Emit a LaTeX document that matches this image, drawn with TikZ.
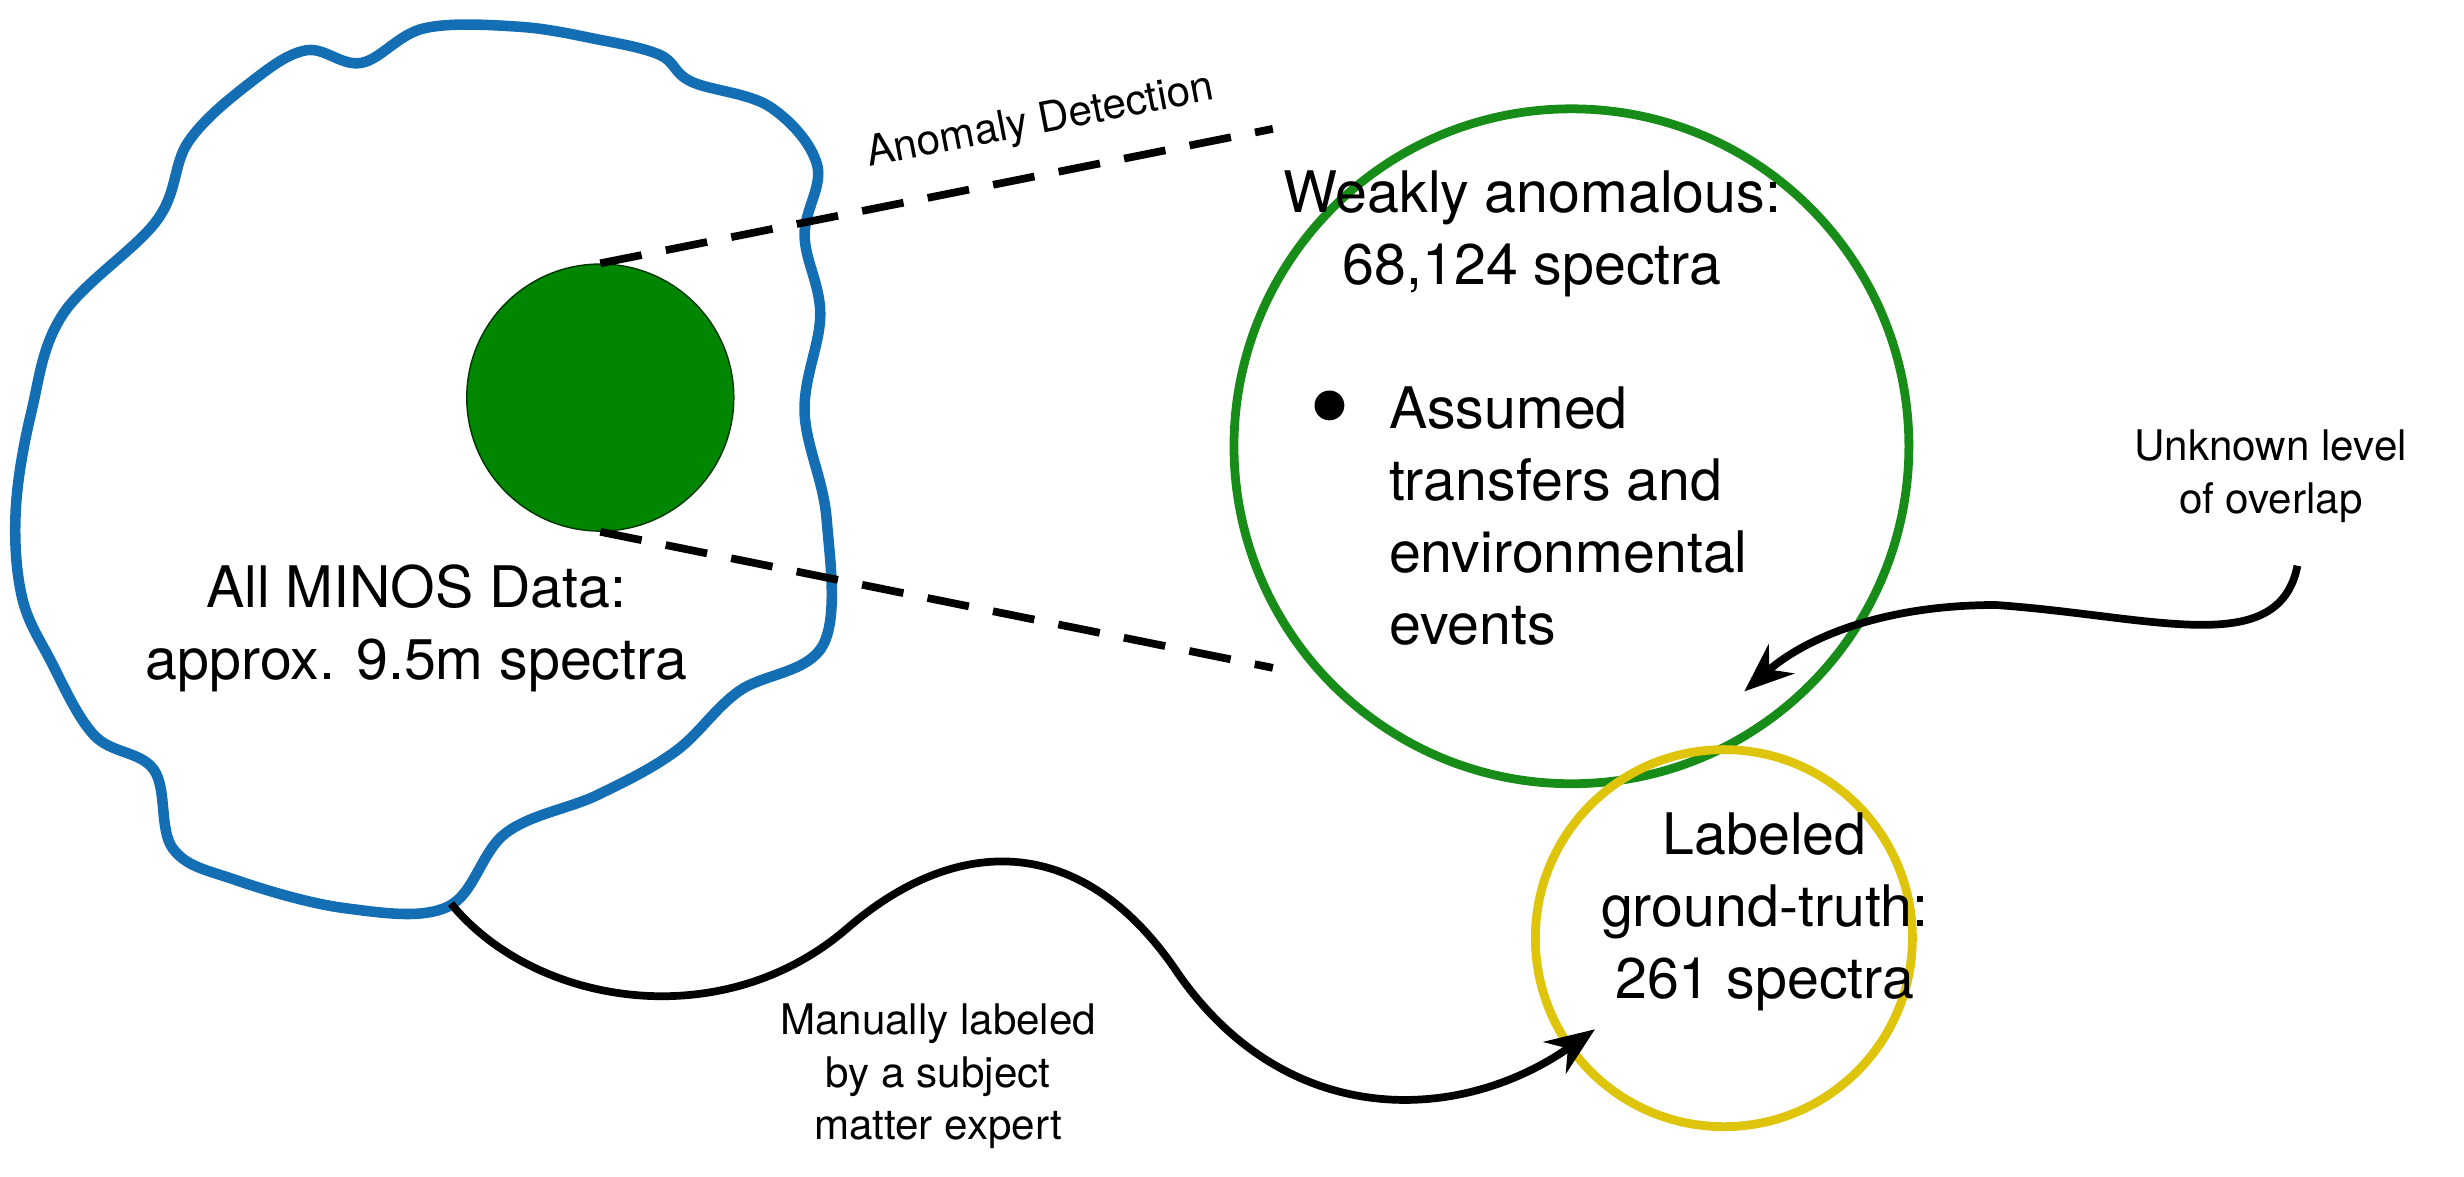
\documentclass[tikz,border=0pt]{standalone}
\usepackage{fontspec}
\setmainfont{TeX Gyre Heros}
\usetikzlibrary{arrows.meta}
\definecolor{gfill}{RGB}{0,134,0}
\definecolor{gline}{RGB}{24,140,24}
\definecolor{bl}{RGB}{20,110,180}
\definecolor{yl}{RGB}{222,196,10}
\begin{document}
\begin{tikzpicture}[x=0.015714cm,y=-0.015714cm,
  big/.style={font=\fontsize{16.3}{20.5}\selectfont,align=center},
  small/.style={font=\fontsize{12}{15}\selectfont,align=center},
  conn/.style={line width=2.2pt,-{Stealth[length=14pt,width=11pt]}}]
\useasboundingbox (0,0) rectangle (1568,749);
\draw[bl,line width=3pt,line join=round] plot[smooth cycle,tension=0.6] coordinates{
(195,32)(230,40)(270,18)(330,17)(380,25)(420,35)(440,52)(490,68)(520,105)(512,150)(522,200)(512,262)(526,330)(524,410)(470,440)(430,478)(380,506)(322,530)(285,577)(220,578)(150,560)(110,540)(98,490)(60,468)(32,420)(14,380)(10,325)(20,262)(40,200)(100,140)(120,90)(160,52)};
\node[circle,fill=gfill,draw=black!60!gfill,minimum size=2.671cm,inner sep=0pt] (g) at (382,253) {};
\node[circle,draw=gline,line width=2.5pt,minimum size=6.75cm,inner sep=0pt] (G) at (1000,284) {};
\node[circle,draw=yl,line width=2.5pt,minimum size=3.771cm,inner sep=0pt] (Y) at (1097,597) {};
\coordinate (a1) at (810,82); \coordinate (a2) at (810,425);
\draw[line width=2.2pt,dash pattern=on 12pt off 7pt] (g.north) -- (a1);
\draw[line width=2.2pt,dash pattern=on 12pt off 7pt] (g.south) -- (a2);
\node[small,rotate=11] (ad) at (662,78) {Anomaly Detection};
\node[big] (t1) at (975,149) {Weakly anomalous:\\68,124 spectra};
\node[big,align=left,anchor=north west] (t2) at (876,238) {Assumed\\transfers and\\environmental\\events};
\node[circle,fill=black,inner sep=3pt] (bul) at (846,258) {};
\node[big] (t3) at (1123,580) {Labeled\\ground-truth:\\261 spectra};
\node[big] (t4) at (265,400) {All MINOS Data:\\approx. 9.5m spectra};
\node[small] (t5) at (1445,303) {Unknown level\\of overlap};
\node[small] (t6) at (597,685) {Manually labeled\\by a subject\\matter expert};
\coordinate (s1) at (1462,360); \coordinate (e1) at (1110,440);
\draw[conn] (s1) .. controls (1450,420) and (1370,392) .. (1270,385) .. controls (1200,385) and (1150,405) .. (e1);
\coordinate (s2) at (287,575); \coordinate (e2) at (1015,655);
\draw[conn] (s2) .. controls (340,640) and (460,660) .. (540,590) .. controls (610,530) and (690,530) .. (750,620) .. controls (820,720) and (930,715) .. (e2);
\end{tikzpicture}
\end{document}
